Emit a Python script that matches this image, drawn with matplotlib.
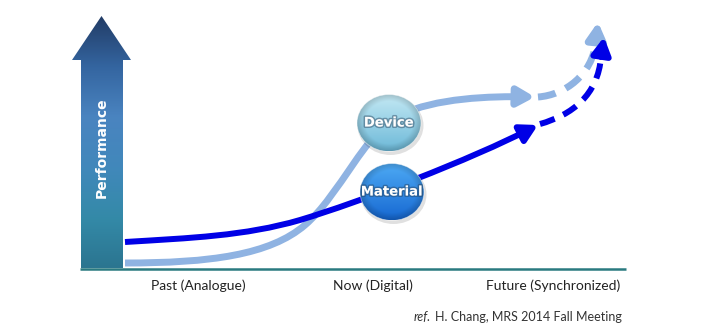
import matplotlib
matplotlib.use("Agg")
import matplotlib.pyplot as plt
import numpy as np
from matplotlib.path import Path
from matplotlib.patches import Polygon, Ellipse, PathPatch, FancyArrowPatch
from matplotlib.colors import LinearSegmentedColormap, to_rgb
import matplotlib.patheffects as pe

# etiquetas del eje x y su posición (px)
ETAPAS = ["Past (Analogue)", "Now (Digital)", "Future (Synchronized)"]
ETAPAS_X = [198, 373, 553]

# curva "Device" (azul claro): puntos de control bezier, en px
DEVICE_SOLIDA = [(125, 263), (210, 263), (270, 255), (305, 225),
                 (340, 195), (365, 132), (400, 115),
                 (435, 98), (490, 96), (535, 97)]
DEVICE_DASH = [(538, 97), (565, 95), (592, 75), (596, 42)]
DEVICE_PUNTA = [(596, 42), (598, 22)]

# curva "Material" (azul fuerte)
MATERIAL_SOLIDA = [(125, 242), (190, 238), (245, 236), (300, 220),
                   (360, 202), (470, 160), (538, 125)]
MATERIAL_DASH = [(540, 124), (572, 115), (598, 95), (601, 57)]
MATERIAL_PUNTA = [(601, 57), (604, 37)]

# burbujas: centro, ancho, alto, texto
BURBUJAS = [
    dict(c=(389, 123), w=64, h=57, txt="Device", top="#c4e9f4", bot="#6db9d8"),
    dict(c=(392, 192), w=64, h=57, txt="Material", top="#4eaaf4", bot="#1668d2"),
]

CLARO = "#8fb3e2"
FUERTE = "#0000e6"
PUNTA = "-|>,head_length=0.5,head_width=0.28"

fig = plt.figure(figsize=(7.04, 3.34), dpi=100)
ax = fig.add_axes([0, 0, 1, 1])


def camino(pts):
    codes = [Path.MOVETO] + [Path.CURVE4] * (len(pts) - 1)
    return Path(pts, codes)


def degradado(clip, x0, x1, y0, y1, colores):
    cmap = LinearSegmentedColormap.from_list("g", colores)
    im = ax.imshow(np.linspace(0, 1, 256).reshape(-1, 1), cmap=cmap,
                   extent=[x0, x1, y1, y0], aspect="auto", zorder=clip.get_zorder())
    im.set_clip_path(clip)


# flecha grande "Performance"
flecha = Polygon([(81, 268), (81, 60), (72, 60), (101.5, 16), (131, 60), (123, 60), (123, 268)],
                 closed=True, facecolor="none", edgecolor="none", zorder=2)
ax.add_patch(flecha)
degradado(flecha, 72, 131, 16, 268,
          ["#223c66", "#3465a0", "#4a84c0", "#4188bb", "#348aa8", "#2b7590"])
ax.text(102, 148, "Performance", rotation=90, color="white", fontsize=10,
        fontweight="bold", ha="center", va="center", zorder=5)

# linea base
ax.plot([80, 626], [268.5, 268.5], color="#2a7a80", lw=1.8, zorder=3, solid_capstyle="butt")

# curvas solidas con punta
for pts, col, lw in [(DEVICE_SOLIDA, CLARO, 5.0), (MATERIAL_SOLIDA, FUERTE, 4.3)]:
    ax.add_patch(FancyArrowPatch(path=camino(pts), arrowstyle=PUNTA,
                                 mutation_scale=20, color=col, lw=lw, zorder=4,
                                 capstyle="butt"))

# tramos punteados y su punta
for pts, punta, col, lw in [(DEVICE_DASH, DEVICE_PUNTA, CLARO, 5.0),
                            (MATERIAL_DASH, MATERIAL_PUNTA, FUERTE, 4.3)]:
    pp = PathPatch(camino(pts), fill=False, edgecolor=col, lw=lw, zorder=4,
                   linestyle=(0, (2.6, 1.6)), capstyle="butt")
    ax.add_patch(pp)
    ax.add_patch(FancyArrowPatch(punta[0], punta[1], arrowstyle=PUNTA,
                                 mutation_scale=20, color=col, lw=lw, zorder=4,
                                 shrinkA=0, shrinkB=0))

# burbujas
for b in BURBUJAS:
    cx, cy = b["c"]
    w, h = b["w"], b["h"]
    sombra = Ellipse((cx + 1.5, cy + 2.5), w + 2, h + 2, facecolor="#000000", alpha=0.12,
                     edgecolor="none", zorder=5)
    ax.add_patch(sombra)
    elipse = Ellipse((cx, cy), w, h, facecolor="none", edgecolor="none", zorder=6)
    ax.add_patch(elipse)
    # sombreado tipo boton
    n = 120
    u, v = np.meshgrid(np.linspace(-1, 1, n), np.linspace(-1, 1, n))
    t = (v + 1) / 2
    top, bot = np.array(to_rgb(b["top"])), np.array(to_rgb(b["bot"]))
    img = top[None, None, :] * (1 - t[..., None]) + bot[None, None, :] * t[..., None]
    r = np.sqrt(u ** 2 + v ** 2)
    borde = np.clip((r - 0.75) / 0.25, 0, 1)[..., None]
    img = img * (1 - 0.18 * borde)
    img = np.clip(img, 0, 1)
    im = ax.imshow(img, extent=[cx - w / 2, cx + w / 2, cy + h / 2, cy - h / 2],
                   aspect="auto", zorder=6, interpolation="bilinear")
    im.set_clip_path(elipse)
    ax.add_patch(Ellipse((cx, cy), w, h, facecolor="none", edgecolor="#ffffff",
                         lw=0.6, alpha=0.5, zorder=7))
    ax.text(cx, cy, b["txt"], color="white", fontsize=9.5, fontweight="bold",
            ha="center", va="center", zorder=8,
            path_effects=[pe.withStroke(linewidth=2.2, foreground=(0.15, 0.25, 0.35, 0.45))])

# etiquetas del eje x
for x, txt in zip(ETAPAS_X, ETAPAS):
    ax.text(x, 286, txt, ha="center", va="center", fontsize=10, color="#222222",
            family="Lato")

# referencia
ref = ax.text(622, 317, "H. Chang, MRS 2014 Fall Meeting", ha="right", va="center",
              fontsize=9, color="#333333", family="Lato")
ax.annotate("ref.", xy=(0, 0.5), xycoords=ref, xytext=(-3, 0), textcoords="offset points",
            ha="right", va="center", fontsize=9, color="#333333", style="italic", family="Lato")

ax.set_xlim(0, 704)
ax.set_ylim(334, 0)
ax.axis("off")

fig.savefig("out.png", dpi=100)
